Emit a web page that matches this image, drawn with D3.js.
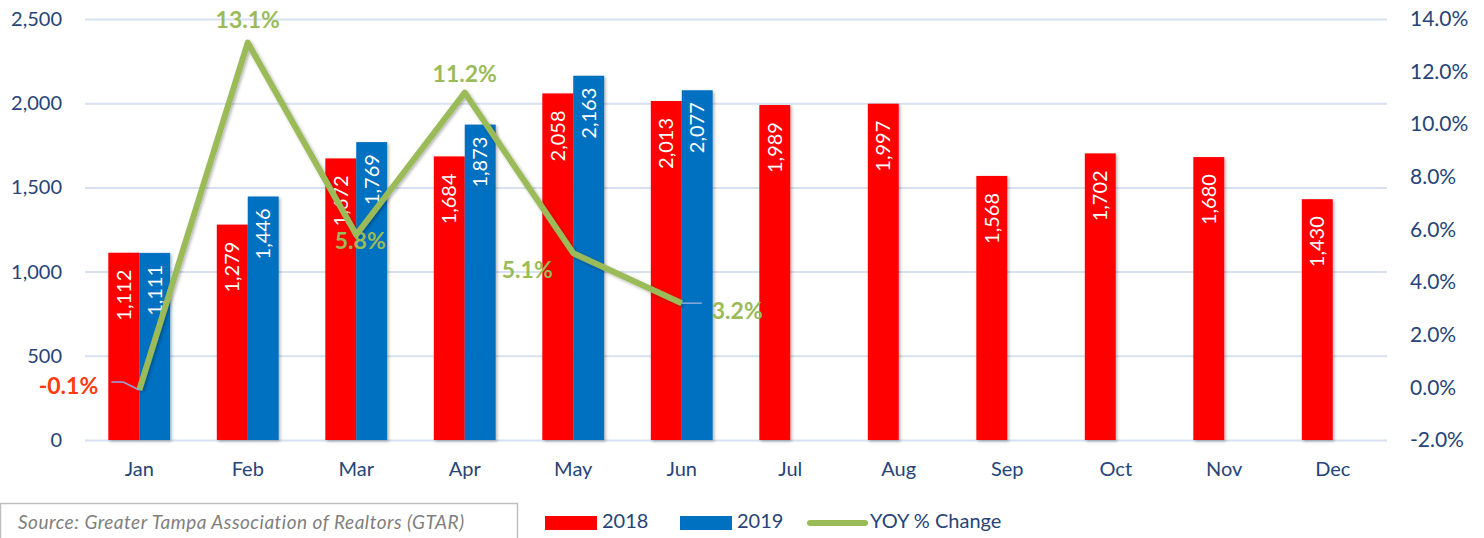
<!DOCTYPE html>
<html>
<head>
<meta charset="utf-8">
<script src="https://cdn.jsdelivr.net/npm/d3@7"></script>
<style>
  body { margin: 0; background: #fff; }
  svg text { font-family: Lato, "Open Sans", sans-serif; }
</style>
</head>
<body>
<svg id="chart" width="1484" height="538"></svg>
<script>
// Dữ liệu
const months = ["Jan", "Feb", "Mar", "Apr", "May", "Jun", "Jul", "Aug", "Sep", "Oct", "Nov", "Dec"];
const sales2018 = [1112, 1279, 1672, 1684, 2058, 2013, 1989, 1997, 1568, 1702, 1680, 1430];
const sales2019 = [1111, 1446, 1769, 1873, 2163, 2077, null, null, null, null, null, null];
const yoyChange = [-0.1, 13.1, 5.8, 11.2, 5.1, 3.2];
const leftTicks = [0, 500, 1000, 1500, 2000, 2500];
const rightTicks = [-2, 0, 2, 4, 6, 8, 10, 12, 14];

// Vị trí nhãn % (dx, dy so với điểm, màu)
const yoyLabelPos = [
  {dx: -41, dy: -2, anchor: "end", color: "#FF3B0F", leader: true},
  {dx: 0, dy: -21, anchor: "middle", color: "#9BBB59"},
  {dx: 4, dy: 8, anchor: "middle", color: "#9BBB59"},
  {dx: 0, dy: -17, anchor: "middle", color: "#9BBB59"},
  {dx: -46, dy: 19, anchor: "middle", color: "#9BBB59"},
  {dx: 30, dy: 10, anchor: "start", color: "#9BBB59", leader: true}
];

const svg = d3.select("#chart");
const margin = {top: 19, right: 97, bottom: 98, left: 85};
const width = 1484 - margin.left - margin.right,
      height = 538 - margin.top - margin.bottom;

const axisColor = "#264478";

// Bóng đổ nhẹ
const defs = svg.append("defs");
defs.append("filter").attr("id", "shadow")
  .attr("x", "-20%").attr("y", "-20%").attr("width", "140%").attr("height", "140%")
  .append("feDropShadow")
  .attr("dx", 1.5).attr("dy", 1.5).attr("stdDeviation", 1.5)
  .attr("flood-color", "#000").attr("flood-opacity", 0.3);

const g = svg.append("g").attr("transform", `translate(${margin.left},${margin.top})`);

// Thang đo
const x = d3.scaleBand().domain(months).range([0, width])
  .paddingInner(0.43).paddingOuter(0.215);
const x1 = d3.scaleBand().domain(["2018", "2019"]).range([0, x.bandwidth()]);
const y = d3.scaleLinear().domain([0, 2500]).range([height, 0]);
const y2 = d3.scaleLinear().domain([-2, 14]).range([height, 0]);

// Lưới ngang
g.append("g")
  .call(d3.axisLeft(y).tickValues(leftTicks).tickSize(-width).tickFormat(""))
  .call(s => s.select(".domain").remove())
  .selectAll("line").attr("stroke", "#D6E1F1").attr("stroke-width", 2);

// Trục trái
g.append("g")
  .call(d3.axisLeft(y).tickValues(leftTicks).tickSize(0).tickPadding(23).tickFormat(d3.format(",")))
  .call(s => s.select(".domain").remove())
  .selectAll("text")
  .attr("fill", axisColor).style("font-size", "20px");

// Trục phải
g.append("g")
  .attr("transform", `translate(${width},0)`)
  .call(d3.axisRight(y2).tickValues(rightTicks).tickSize(0).tickPadding(23).tickFormat(d => d.toFixed(1) + "%"))
  .call(s => s.select(".domain").remove())
  .selectAll("text")
  .attr("fill", axisColor).style("font-size", "21px");

// Trục X
g.append("g")
  .attr("transform", `translate(0,${height})`)
  .call(d3.axisBottom(x).tickSize(0).tickPadding(22))
  .call(s => s.select(".domain").remove())
  .selectAll("text")
  .attr("fill", axisColor).style("font-size", "20px");

// Dữ liệu cột
const bars = [];
months.forEach((m, i) => {
  bars.push({month: m, year: "2018", value: sales2018[i], color: "#FF0000"});
  if (sales2019[i] != null) bars.push({month: m, year: "2019", value: sales2019[i], color: "#0070C0"});
});

g.selectAll("rect.bar")
  .data(bars)
  .enter().append("rect")
    .attr("class", "bar")
    .attr("x", d => x(d.month) + x1(d.year))
    .attr("y", d => y(d.value))
    .attr("width", x1.bandwidth())
    .attr("height", d => height - y(d.value))
    .attr("fill", d => d.color)
    .attr("filter", "url(#shadow)");

// Nhãn trong cột (xoay dọc)
g.selectAll("text.value")
  .data(bars)
  .enter().append("text")
    .attr("class", "value")
    .attr("transform", d => `translate(${x(d.month) + x1(d.year) + x1.bandwidth() / 2 + 7},${y(d.value) + (d.year === "2018" ? 17 : 12)}) rotate(-90)`)
    .attr("text-anchor", "end")
    .attr("fill", "#fff")
    .style("font-size", "20px")
    .text(d => d3.format(",")(d.value));

// Đường YOY
const pts = yoyChange.map((v, i) => ({
  x: x(months[i]) + x.bandwidth() / 2,
  y: y2(v),
  v: v
}));

g.append("path")
  .datum(pts)
  .attr("fill", "none")
  .attr("stroke", "#9BBB59")
  .attr("stroke-width", 6)
  .attr("stroke-linejoin", "round")
  .attr("filter", "url(#shadow)")
  .attr("d", d3.line().x(d => d.x).y(d => d.y));

// Nhãn % và đường dẫn
pts.forEach((p, i) => {
  const pos = yoyLabelPos[i];
  if (pos.leader) {
    const lx = pos.anchor === "end" ? p.x + pos.dx + 13 : p.x + pos.dx - 10;
    g.append("path")
      .attr("d", pos.anchor === "end"
        ? `M${lx},${p.y - 8} L${lx + 12},${p.y - 8} L${p.x},${p.y}`
        : `M${p.x},${p.y} L${lx},${p.y}`)
      .attr("fill", "none")
      .attr("stroke", "#8EAADB")
      .attr("stroke-width", 1.5);
  }
  g.append("text")
    .attr("x", p.x + pos.dx)
    .attr("y", p.y + pos.dy)
    .attr("text-anchor", pos.anchor)
    .attr("dominant-baseline", "middle")
    .attr("fill", pos.color)
    .style("font-size", "23px")
    .style("font-weight", "bold")
    .text(p.v.toFixed(1) + "%");
});

// Chú giải
const legend = svg.append("g").attr("transform", "translate(545,523)");
const legendItems = [
  {label: "2018", color: "#FF0000", type: "rect", x: 0},
  {label: "2019", color: "#0070C0", type: "rect", x: 135},
  {label: "YOY % Change", color: "#9BBB59", type: "line", x: 265}
];
legendItems.forEach(it => {
  if (it.type === "rect") {
    legend.append("rect").attr("x", it.x).attr("y", -7).attr("width", 52).attr("height", 14).attr("fill", it.color);
  } else {
    legend.append("line").attr("x1", it.x).attr("x2", it.x + 55).attr("y1", 0).attr("y2", 0)
      .attr("stroke", it.color).attr("stroke-width", 6).attr("stroke-linecap", "round");
  }
  legend.append("text")
    .attr("x", it.x + (it.type === "rect" ? 57 : 60))
    .attr("y", 0)
    .attr("dominant-baseline", "middle")
    .attr("fill", axisColor)
    .style("font-size", "20px")
    .text(it.label);
});

// Ô nguồn
svg.append("rect")
  .attr("x", 0.5).attr("y", 503.5).attr("width", 517).attr("height", 40)
  .attr("fill", "#fff").attr("stroke", "#BFBFBF").attr("stroke-width", 1.5);
svg.append("text")
  .attr("x", 18).attr("y", 524)
  .attr("dominant-baseline", "middle")
  .attr("fill", "#7F7F7F")
  .style("font-size", "19px")
  .style("letter-spacing", "0.5px")
  .style("font-style", "italic")
  .text("Source:  Greater Tampa Association of Realtors (GTAR)");
</script>
</body>
</html>
